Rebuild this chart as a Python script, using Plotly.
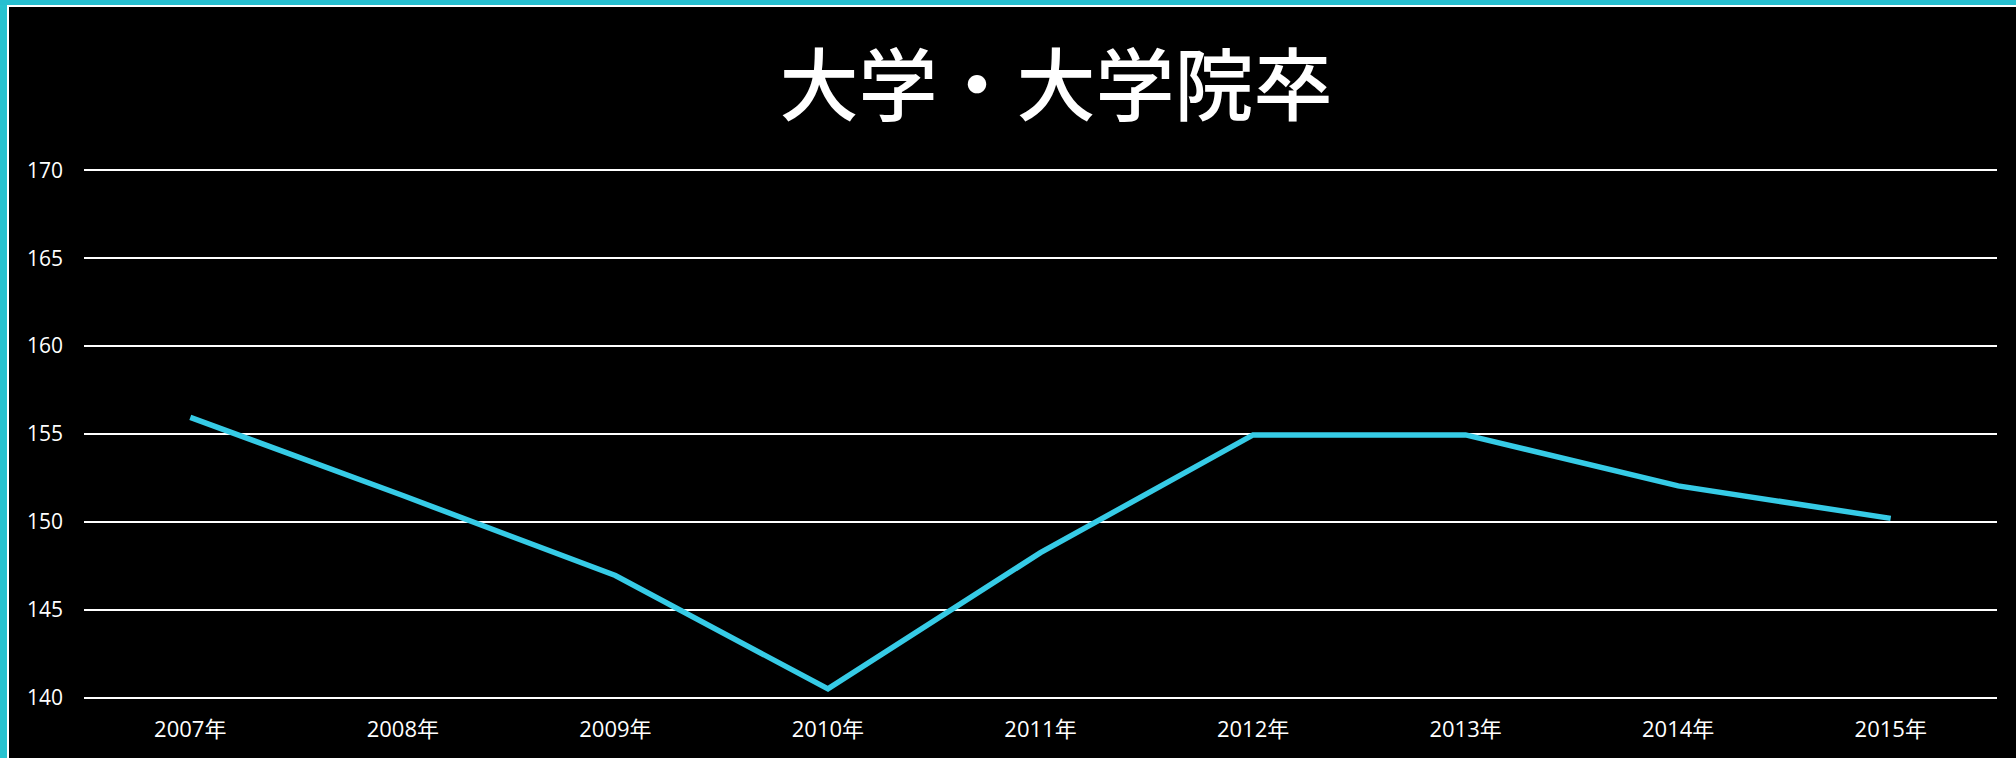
import plotly.graph_objects as go

years = ["2007年", "2008年", "2009年", "2010年", "2011年", "2012年", "2013年", "2014年", "2015年"]
values = [155.95, 151.5, 146.95, 140.5, 148.25, 154.95, 154.95, 152.05, 150.2]
y_ticks = [140, 145, 150, 155, 160, 165, 170]
title_text = "大学・大学院卒"

W, H = 2016, 758
ML, MR, MT, MB = 84, 19, 165, 55
PW = W - ML - MR
PH = H - MT - MB


def px_x(p):
    return (p - ML) / PW


def px_y(q):
    return (H - MB - q) / PH


fig = go.Figure()
fig.add_trace(go.Scatter(
    x=years, y=values, mode="lines",
    line=dict(color="#36CBE6", width=5.5),
    hoverinfo="skip", showlegend=False,
))

shapes = [
    dict(type="rect", xref="paper", yref="paper", x0=px_x(0), x1=px_x(7), y0=px_y(H), y1=px_y(0),
         fillcolor="#27C3D0", line=dict(width=0), layer="above"),
    dict(type="rect", xref="paper", yref="paper", x0=px_x(7), x1=px_x(9), y0=px_y(H), y1=px_y(5),
         fillcolor="#FFFFFF", line=dict(width=0), layer="above"),
    dict(type="rect", xref="paper", yref="paper", x0=px_x(0), x1=px_x(W), y0=px_y(5), y1=px_y(0),
         fillcolor="#27BFD0", line=dict(width=0), layer="above"),
    dict(type="rect", xref="paper", yref="paper", x0=px_x(7), x1=px_x(W), y0=px_y(7), y1=px_y(5),
         fillcolor="#FFFFFF", line=dict(width=0), layer="above"),
]

fig.update_layout(
    width=W, height=H,
    margin=dict(l=ML, r=MR, t=MT, b=MB, pad=0),
    paper_bgcolor="#000000", plot_bgcolor="#000000",
    font=dict(family="Open Sans, Noto Sans CJK JP", color="#FFFFFF", size=22),
    title=dict(text=title_text, x=1056 / W, xanchor="center", y=1 - 87 / H, yanchor="middle",
               font=dict(family="Noto Sans CJK JP", size=79, color="#FFFFFF", weight=500)),
    xaxis=dict(type="category", categoryorder="array", categoryarray=years,
               range=[-0.5, len(years) - 0.5],
               showgrid=False, zeroline=False, showline=False, ticks="",
               tickfont=dict(family="Open Sans, Noto Sans CJK JP", size=22, color="#FFFFFF"),
               ticklabelstandoff=11),
    yaxis=dict(range=[139.7, 170.3], tickvals=y_ticks, ticktext=[str(v) for v in y_ticks],
               showgrid=True, gridcolor="#FFFFFF", gridwidth=2,
               zeroline=False, showline=False, ticks="",
               tickfont=dict(family="Open Sans, Noto Sans CJK JP", size=21, color="#FFFFFF"),
               ticklabelstandoff=20),
    shapes=shapes,
)

fig.write_html("out.html")
